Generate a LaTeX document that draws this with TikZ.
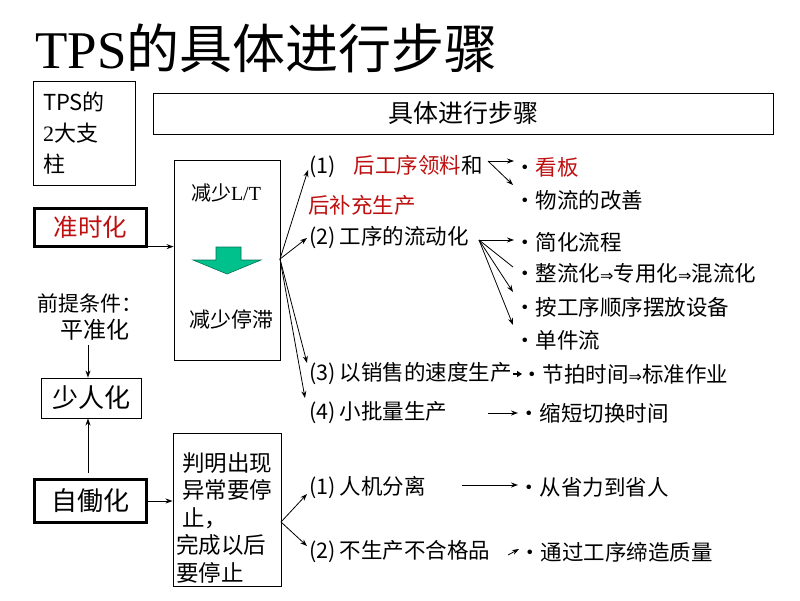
\documentclass[tikz,border=0pt]{standalone}
\usepackage{fontspec}
\setmainfont{Noto Sans CJK SC}
\newfontfamily\serif{Liberation Serif}
\newfontfamily\dvfont{DejaVu Sans}
\usetikzlibrary{arrows.meta,calc}
\definecolor{jred}{RGB}{190,16,16}
\definecolor{agreen}{RGB}{0,192,140}
\definecolor{agreend}{RGB}{0,115,85}
\newcommand\myimp{{\dvfont\fontsize{16}{18}\selectfont ⇒}}
\begin{document}
\begin{tikzpicture}[x=1pt,y=-1pt,
  txt/.style={inner sep=0pt, anchor=west, font=\fontsize{21.5}{26}\selectfont},
  box/.style={draw, line width=0.9pt, inner sep=0pt},
  tbox/.style={draw, line width=3.2pt, inner sep=0pt},
  arr/.style={line width=0.8pt, -{Stealth[length=7pt,width=5pt]}},
  ln/.style={line width=0.8pt},
  thickarr/.style={line width=2pt, -{Triangle[length=5pt,width=6pt]}}
]
\useasboundingbox (0,0) rectangle (800,600);

% title
\node[anchor=base west, inner sep=0pt, font=\fontsize{53}{60}\selectfont] (title) at (35,68) {{\serif TPS}的具体进行步骤};

% left column
\node[box, minimum width=102pt, minimum height=104pt, font=\fontsize{22}{31}\selectfont, align=left, text width=82pt] (tps) at (84,133) {TPS的\\{\serif 2}大支\\柱};
\node[box, minimum width=620pt, minimum height=41pt, font=\fontsize{25}{30}\selectfont] (hdr) at (463,113.5) {具体进行步骤};
\node[tbox, minimum width=112pt, minimum height=38pt, text=jred, font=\fontsize{24.5}{28}\selectfont] (jit) at (90.5,227.5) {准时化};
\node[inner sep=0pt, font=\fontsize{21}{24}\selectfont] (pre1) at (90,303) {前提条件：};
\node[inner sep=0pt, font=\fontsize{23}{26}\selectfont] (pre2) at (95,330) {平准化};
\node[box, minimum width=100pt, minimum height=40pt, font=\fontsize{26}{30}\selectfont] (sr) at (91,398) {少人化};
\node[tbox, minimum width=112pt, minimum height=43pt, font=\fontsize{26}{30}\selectfont] (zd) at (90.5,501) {自働化};

% big box
\node[box, minimum width=106pt, minimum height=200pt] (big) at (227,260) {};
\node[inner sep=0pt, font=\fontsize{20}{24}\selectfont] (lt) at (226,193) {减少{\serif L/T}};
\node[inner sep=0pt, font=\fontsize{21}{24}\selectfont] (tz) at (231,320) {减少停滞};
\draw[fill=agreen, draw=agreend, line width=0.6pt] (216,247) -- (241,247) -- (241,260) -- (261,260) -- (227,274) -- (193,260) -- (216,260) -- cycle;

% panming box
\node[box, minimum width=108pt, minimum height=153pt] (pm) at (227,509.5) {};
\node[anchor=north west, inner sep=0pt, align=left, font=\fontsize{22.5}{27.5}\selectfont] (pmt) at (176,452) {\hspace{6pt}判明出现\\\hspace{6pt}异常要停\\\hspace{6pt}止，\\完成以后\\要停止};

% middle texts
\node[txt] (n1) at (309,167) {(1)\hspace{18pt}{\color{jred}后工序领料}和};
\node[txt, text=jred] (r2) at (308,205) {后补充生产};
\node[txt] (n2) at (309,238) {(2)\hspace{4pt}工序的流动化};
\node[txt] (n3) at (309,374) {(3)\hspace{4pt}以销售的速度生产};
\node[txt] (n4) at (309,413) {(4)\hspace{4pt}小批量生产};
\node[txt] (n5) at (309,487) {(1)\hspace{4pt}人机分离};
\node[txt] (n6) at (309,552) {(2)\hspace{4pt}不生产不合格品};

% bullets
\node[txt] (b1) at (514,167) {・{\color{jred}看板}};
\node[txt] (b2) at (514,200) {・物流的改善};
\node[txt] (b3) at (514,242) {・简化流程};
\node[txt] (b4) at (514,273) {・整流化\myimp 专用化\myimp 混流化};
\node[txt] (b5) at (514,307) {・按工序顺序摆放设备};
\node[txt] (b6) at (514,340) {・单件流};
\node[txt] (b7) at (521,374) {・节拍时间\myimp 标准作业};
\node[txt] (b8) at (518,413) {・缩短切换时间};
\node[txt] (b9) at (518,487) {・从省力到省人};
\node[txt] (b10) at (519,552) {・通过工序缔造质量};

% left connectors
\coordinate (ax) at (88,0);
\draw[arr] ($(pre2.south -| ax)+(0,4)$) -- (sr.north -| ax);
\draw[arr] ($(zd.north -| ax)+(0,-5)$) -- (sr.south -| ax);
\coordinate (j1) at ($(jit.south east)+(0,-1.5)$);
\draw[arr] (j1) -- (j1 -| big.west);
\draw[arr] (zd.east) -- (zd.east -| pm.west);

% fan from big box
\coordinate (fan) at (280,259);
\draw[arr] (fan) -- ($(n1.west)+(-1,3)$);
\draw[arr] (fan) -- ($(n2.west)+(-2,0)$);
\draw[arr] (fan) -- ($(n3.west)+(-2,-11)$);
\draw[arr] (fan) -- ($(n4.west)+(-4,-15)$);

% from (1)
\coordinate (a1) at (488,161);
\draw[arr] (a1) -- (a1 -| b1.west);
\draw[arr] (a1) -- ($(b2.west)+(-1,-15)$);
% from (2)
\coordinate (a2) at (479,240);
\draw[arr] (a2) -- (a2 -| b3.west);
\draw[ln] (a2) -- ($(b4.west)+(-1,-6)$);
\draw[arr] (a2) -- ($(b5.west)+(-1,-15)$);
\draw[arr] (a2) -- ($(b6.west)+(-1,-15)$);
% (3), (4)
\draw[thickarr] ($(n3.east)+(1,0)$) -- ($(b7.west)+(1,0)$);
\coordinate (s4) at (488,413);
\draw[arr] (s4) -- (s4 -| b8.west);

% panming fan
\coordinate (f2) at (281,522);
\draw[arr] (f2) -- ($(n5.west)+(-2,7)$);
\draw[arr] (f2) -- ($(n6.west)+(-2,-6)$);
\coordinate (s5) at (462,485);
\draw[arr] (s5) -- (s5 -| b9.west);
\coordinate (s6) at (508,555);
\draw[arr] (s6) -- ($(b10.west)+(0,-3)$);
\end{tikzpicture}
\end{document}
